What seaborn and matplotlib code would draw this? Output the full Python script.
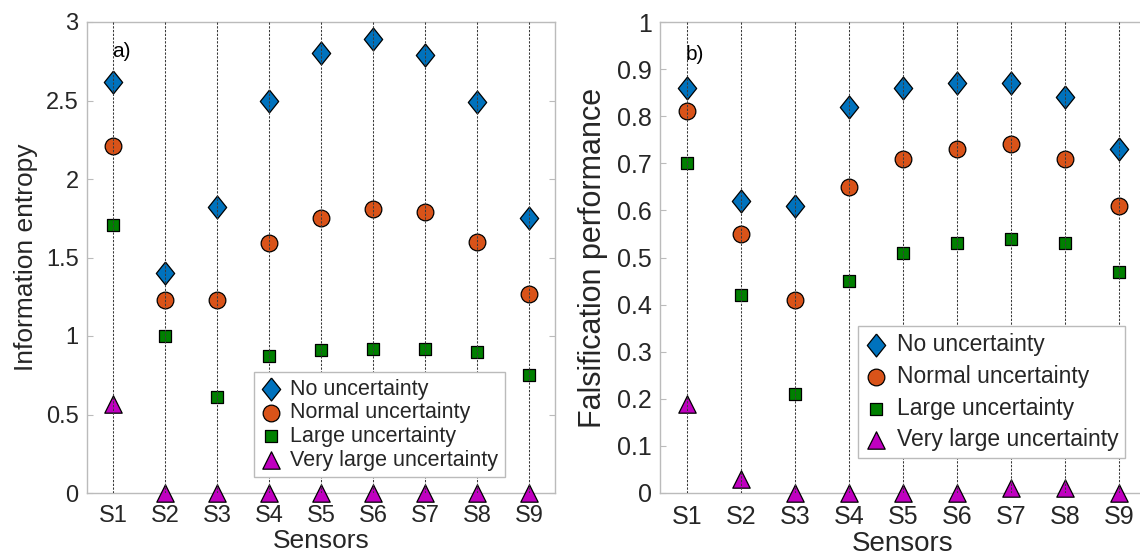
import numpy as np
import pandas as pd
import seaborn as sns
import matplotlib.pyplot as plt
from matplotlib.ticker import FuncFormatter

sensors = ['S1', 'S2', 'S3', 'S4', 'S5', 'S6', 'S7', 'S8', 'S9']
series = ['No uncertainty', 'Normal uncertainty', 'Large uncertainty', 'Very large uncertainty']

entropy_no = [2.62, 1.40, 1.82, 2.50, 2.80, 2.89, 2.79, 2.49, 1.75]
entropy_normal = [2.21, 1.23, 1.23, 1.59, 1.75, 1.81, 1.79, 1.60, 1.27]
entropy_large = [1.71, 1.00, 0.61, 0.87, 0.91, 0.92, 0.92, 0.90, 0.75]
entropy_vlarge = [0.57, 0, 0, 0, 0, 0, 0, 0, 0]

falsif_no = [0.86, 0.62, 0.61, 0.82, 0.86, 0.87, 0.87, 0.84, 0.73]
falsif_normal = [0.81, 0.55, 0.41, 0.65, 0.71, 0.73, 0.74, 0.71, 0.61]
falsif_large = [0.70, 0.42, 0.21, 0.45, 0.51, 0.53, 0.54, 0.53, 0.47]
falsif_vlarge = [0.19, 0.03, 0, 0, 0, 0, 0.01, 0.01, 0]

colors = ['#0072BD', '#D95319', '#008000', '#C000C0']
# matlab style diamond is a bit wider than matplotlib's thin diamond
diamond = [(0, 1), (0.8, 0), (0, -1), (-0.8, 0), (0, 1)]
markers = [diamond, 'o', 's', '^']
msizes = [16.5, 12, 9.2, 12.5]

sns.set_style('white')
plt.rcParams['font.family'] = ['Liberation Sans', 'DejaVu Sans']

fig = plt.figure(figsize=(11.4, 5.56), dpi=100)
ax1 = fig.add_axes([87 / 1140, 63 / 556, 468 / 1140, 471 / 556])
ax2 = fig.add_axes([660 / 1140, 63 / 556, 486 / 1140, 471 / 556])

x = np.arange(1, len(sensors) + 1)


def draw_panel(ax, values, ymax, ystep, ylabel, tag, tag_y, fs, leg_anchor, leg_fs, leg_sp):
    df = pd.DataFrame({'x': np.tile(x, 4),
                       'value': np.concatenate(values),
                       'series': np.repeat(series, len(x))})
    for name, c, m, ms in zip(series, colors, markers, msizes):
        sub = df[df['series'] == name]
        sns.scatterplot(data=sub, x='x', y='value', ax=ax, marker=m, color=c,
                        s=ms ** 2, edgecolor='black', linewidth=0.9,
                        label=name, zorder=3, clip_on=False)
    ax.vlines(x, 0, ymax, colors='#3a3a3a', linestyles=(0, (2.2, 1.4)),
              linewidth=0.75, zorder=4)
    ax.set_xlim(0.5, len(sensors) + 0.5)
    ax.set_ylim(0, ymax)
    ax.set_xticks(x)
    ax.set_xticklabels(sensors)
    ax.set_yticks(np.arange(0, ymax + ystep / 2, ystep))
    ax.yaxis.set_major_formatter(FuncFormatter(lambda v, p: '%g' % round(v, 2)))
    ax.tick_params(axis='both', labelsize=fs[0], labelcolor='#262626', direction='in',
                   length=4, color='#BBBBBB')
    ax.tick_params(axis='x', pad=9)
    ax.tick_params(axis='y', pad=6, right=True, left=True)
    for sp in ax.spines.values():
        sp.set_color('#BBBBBB')
        sp.set_linewidth(1.0)
    ax.set_xlabel('Sensors', fontsize=fs[1], color='#262626', labelpad=1)
    ax.set_ylabel(ylabel, fontsize=fs[2], color='#262626', labelpad=6)
    ax.text(0.98, tag_y, tag, fontsize=15, color='black', ha='left', va='center')
    ax.legend(loc='lower right', bbox_to_anchor=leg_anchor, fontsize=leg_fs,
              frameon=True, fancybox=False, edgecolor='#BBBBBB', framealpha=1,
              handletextpad=0.4, borderpad=0.3, labelspacing=leg_sp,
              handlelength=1.0, borderaxespad=0, markerscale=1.0)


draw_panel(ax1, [entropy_no, entropy_normal, entropy_large, entropy_vlarge],
           3, 0.5, 'Information entropy', 'a)', 2.815, (17, 19, 19),
           (0.893, 0.034), 15.5, 0.12)
draw_panel(ax2, [falsif_no, falsif_normal, falsif_large, falsif_vlarge],
           1, 0.1, 'Falsification performance', 'b)', 0.93, (18, 20, 22),
           (0.957, 0.074), 16.5, 0.38)

fig.savefig('out.png', dpi=100)
